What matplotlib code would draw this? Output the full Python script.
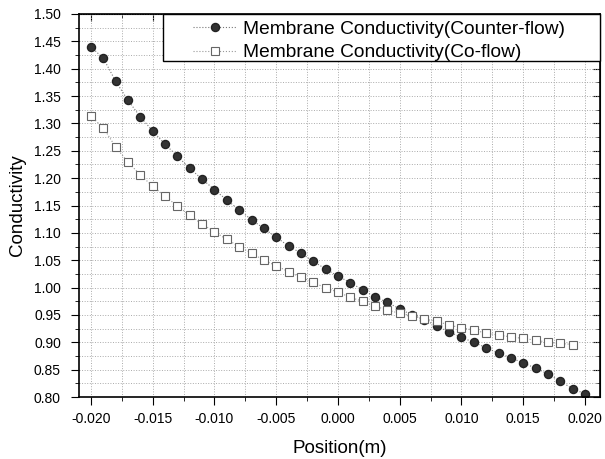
import matplotlib
matplotlib.use('Agg')
import matplotlib.pyplot as plt
from matplotlib.patches import Rectangle
import numpy as np

plt.rcParams['font.family'] = ['Liberation Sans', 'DejaVu Sans']

# position along the channel (m)
pos_counter = [-0.020, -0.019, -0.018, -0.017, -0.016, -0.015, -0.014, -0.013, -0.012, -0.011,
               -0.010, -0.009, -0.008, -0.007, -0.006, -0.005, -0.004, -0.003, -0.002, -0.001,
               0.000, 0.001, 0.002, 0.003, 0.004, 0.005, 0.006, 0.007, 0.008, 0.009,
               0.010, 0.011, 0.012, 0.013, 0.014, 0.015, 0.016, 0.017, 0.018, 0.019, 0.020]
cond_counter = [1.440, 1.419, 1.377, 1.342, 1.312, 1.286, 1.262, 1.240, 1.218, 1.198,
                1.179, 1.160, 1.142, 1.124, 1.108, 1.092, 1.076, 1.063, 1.048, 1.034,
                1.021, 1.009, 0.996, 0.983, 0.973, 0.961, 0.950, 0.941, 0.930, 0.919,
                0.909, 0.900, 0.890, 0.880, 0.872, 0.862, 0.853, 0.842, 0.829, 0.815, 0.806]

pos_co = pos_counter[:-1]
cond_co = [1.313, 1.292, 1.257, 1.229, 1.206, 1.185, 1.167, 1.149, 1.132, 1.116,
           1.102, 1.088, 1.075, 1.063, 1.050, 1.040, 1.029, 1.019, 1.010, 0.999,
           0.992, 0.982, 0.975, 0.966, 0.959, 0.953, 0.949, 0.942, 0.939, 0.931,
           0.927, 0.922, 0.917, 0.913, 0.910, 0.907, 0.904, 0.900, 0.898, 0.896]

fig = plt.figure(figsize=(6.05, 4.59), dpi=100)
ax = fig.add_axes([0.1306, 0.135, 0.861, 0.8345])

ax.plot(pos_counter, cond_counter, linestyle=':', color='#777777', linewidth=0.8,
        marker='o', markersize=5.8, markerfacecolor='#333333', markeredgecolor='#222222',
        label='Membrane Conductivity(Counter-flow)')
ax.plot(pos_co, cond_co, linestyle=':', color='#999999', linewidth=0.8,
        marker='s', markersize=5.5, markerfacecolor='white', markeredgecolor='#666666',
        markeredgewidth=0.8, label='Membrane Conductivity(Co-flow)')

ax.set_xlim(-0.02097, 0.02121)
ax.set_ylim(0.80, 1.50)
ax.set_xticks(np.arange(-0.020, 0.0201, 0.005))
ax.set_xticks(np.arange(-0.020, 0.0201, 0.0025), minor=True)
ax.set_yticks(np.arange(0.80, 1.501, 0.05))
ax.set_yticks(np.arange(0.80, 1.501, 0.025), minor=True)
ax.xaxis.set_major_formatter(matplotlib.ticker.FormatStrFormatter('%.3f'))
ax.yaxis.set_major_formatter(matplotlib.ticker.FormatStrFormatter('%.2f'))
ax.tick_params(which='both', direction='out', labelsize=10, colors='black')
ax.tick_params(which='major', length=6)
ax.tick_params(which='minor', length=3)
ax.tick_params(axis='y', which='major', pad=7)
ax.tick_params(axis='x', which='major', pad=5)

# inward ticks on top and right like the original
for side in ['top', 'right']:
    if side == 'top':
        sec = ax.secondary_xaxis('top')
        sec.set_xticks(np.arange(-0.020, 0.0201, 0.005))
        sec.set_xticks(np.arange(-0.020, 0.0201, 0.0025), minor=True)
        sec.tick_params(which='both', direction='in', labeltop=False)
    else:
        sec = ax.secondary_yaxis('right')
        sec.set_yticks(np.arange(0.80, 1.501, 0.05))
        sec.set_yticks(np.arange(0.80, 1.501, 0.025), minor=True)
        sec.tick_params(which='both', direction='in', labelright=False)
    sec.tick_params(which='major', length=5)
    sec.tick_params(which='minor', length=3)

ax.grid(True, which='both', linestyle=':', color='#aaaaaa', linewidth=0.7)
for s in ax.spines.values():
    s.set_linewidth(1.2)

ax.set_xlabel('Position(m)', fontsize=13.5, labelpad=10)
ax.set_ylabel('Conductivity', fontsize=13.5, labelpad=6)

# legend box spans to the right edge, drawn as its own frame
ax.add_patch(Rectangle((0.161, 0.877), 0.839, 0.123, transform=ax.transAxes,
                       facecolor='white', edgecolor='black', linewidth=1.0,
                       zorder=4.5, clip_on=False))
leg = ax.legend(loc='upper left', bbox_to_anchor=(0.206, 1.0), fontsize=13.8,
                frameon=False, borderaxespad=0, borderpad=0.35, handlelength=2.3,
                handletextpad=0.31, labelspacing=0.31)

plt.savefig('out.png', dpi=100)
